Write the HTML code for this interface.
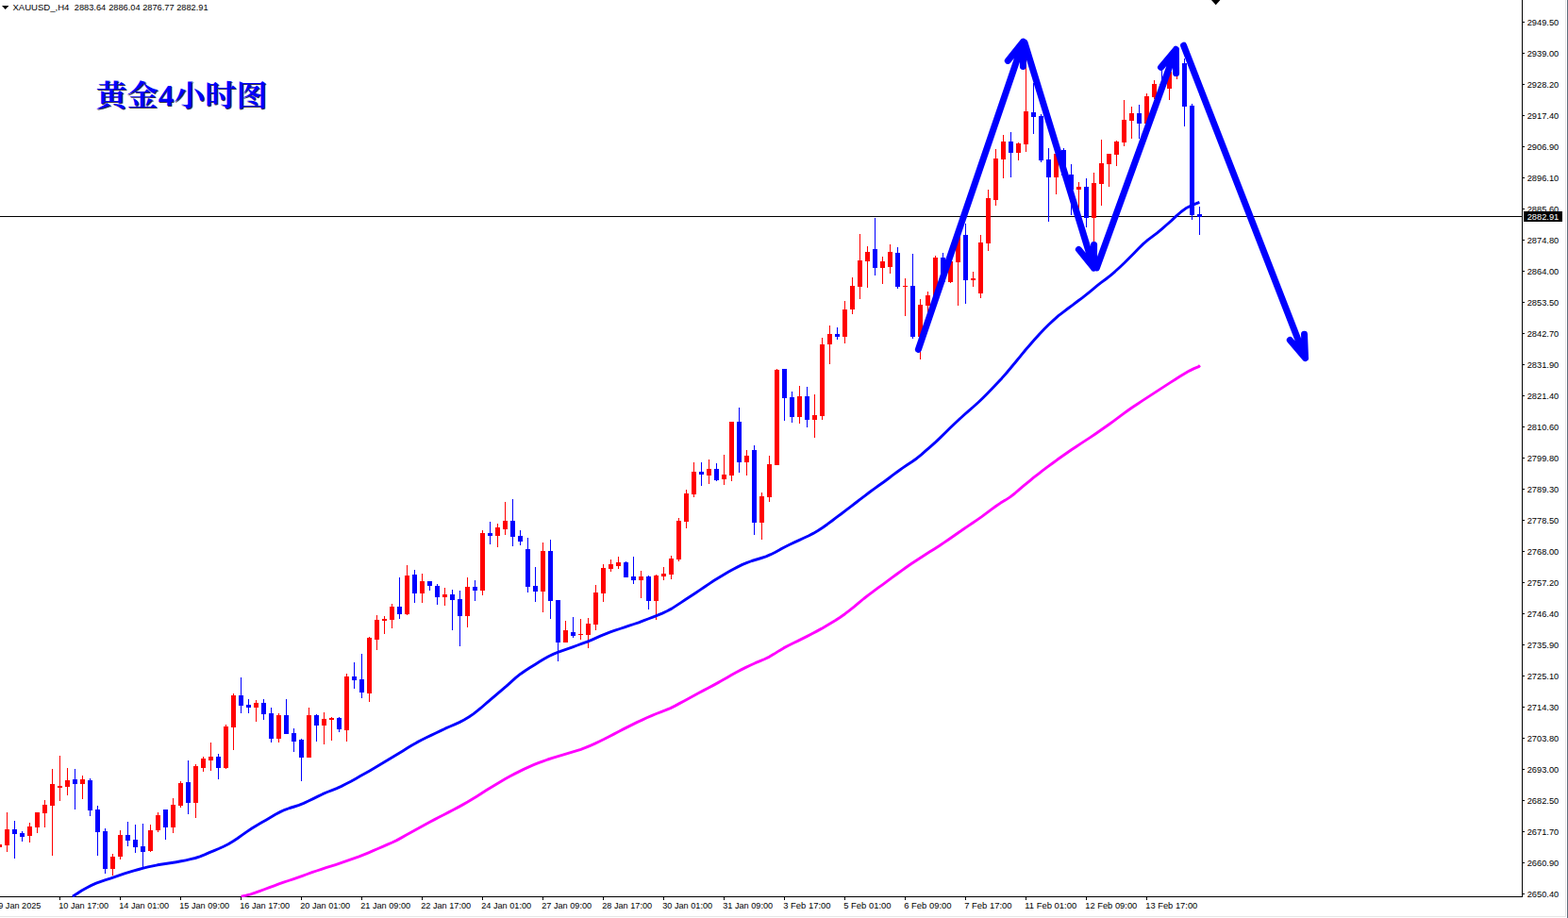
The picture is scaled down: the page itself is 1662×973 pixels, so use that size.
<!DOCTYPE html>
<html><head><meta charset="utf-8"><title>XAUUSD H4</title>
<style>
html,body{margin:0;padding:0;background:#fff;}
body{width:1662px;height:973px;overflow:hidden;position:relative;}
svg{position:absolute;left:0;top:0;display:block;}
text{font-family:"Liberation Sans",sans-serif;fill:#000;}
.ax{font-size:9.6px;}
</style></head><body>
<svg width="1662" height="973" viewBox="0 0 1662 973">
<rect width="1662" height="973" fill="#fff"/>
<g shape-rendering="crispEdges">
<rect x="1659" y="0" width="1" height="972" fill="#e6e6e6"/>
<rect x="0" y="971" width="1660" height="1" fill="#e6e6e6"/>
<rect x="1661" y="0" width="1" height="973" fill="#5c6b7a"/>
<rect x="0" y="229" width="1614" height="1" fill="#000"/>
<rect x="1613" y="0" width="1" height="951" fill="#000"/>
<rect x="0" y="950" width="1614" height="1" fill="#000"/>
<rect x="1614" y="23" width="2" height="1" fill="#000"/><rect x="1614" y="56" width="2" height="1" fill="#000"/><rect x="1614" y="89" width="2" height="1" fill="#000"/><rect x="1614" y="122" width="2" height="1" fill="#000"/><rect x="1614" y="155" width="2" height="1" fill="#000"/><rect x="1614" y="188" width="2" height="1" fill="#000"/><rect x="1614" y="221" width="2" height="1" fill="#000"/><rect x="1614" y="254" width="2" height="1" fill="#000"/><rect x="1614" y="287" width="2" height="1" fill="#000"/><rect x="1614" y="320" width="2" height="1" fill="#000"/><rect x="1614" y="353" width="2" height="1" fill="#000"/><rect x="1614" y="386" width="2" height="1" fill="#000"/><rect x="1614" y="419" width="2" height="1" fill="#000"/><rect x="1614" y="452" width="2" height="1" fill="#000"/><rect x="1614" y="485" width="2" height="1" fill="#000"/><rect x="1614" y="518" width="2" height="1" fill="#000"/><rect x="1614" y="551" width="2" height="1" fill="#000"/><rect x="1614" y="584" width="2" height="1" fill="#000"/><rect x="1614" y="617" width="2" height="1" fill="#000"/><rect x="1614" y="650" width="2" height="1" fill="#000"/><rect x="1614" y="683" width="2" height="1" fill="#000"/><rect x="1614" y="716" width="2" height="1" fill="#000"/><rect x="1614" y="749" width="2" height="1" fill="#000"/><rect x="1614" y="782" width="2" height="1" fill="#000"/><rect x="1614" y="815" width="2" height="1" fill="#000"/><rect x="1614" y="848" width="2" height="1" fill="#000"/><rect x="1614" y="881" width="2" height="1" fill="#000"/><rect x="1614" y="914" width="2" height="1" fill="#000"/><rect x="1614" y="947" width="2" height="1" fill="#000"/>
<rect x="-1" y="951" width="1" height="3" fill="#000"/><rect x="63" y="951" width="1" height="3" fill="#000"/><rect x="127" y="951" width="1" height="3" fill="#000"/><rect x="191" y="951" width="1" height="3" fill="#000"/><rect x="255" y="951" width="1" height="3" fill="#000"/><rect x="319" y="951" width="1" height="3" fill="#000"/><rect x="383" y="951" width="1" height="3" fill="#000"/><rect x="447" y="951" width="1" height="3" fill="#000"/><rect x="511" y="951" width="1" height="3" fill="#000"/><rect x="575" y="951" width="1" height="3" fill="#000"/><rect x="639" y="951" width="1" height="3" fill="#000"/><rect x="703" y="951" width="1" height="3" fill="#000"/><rect x="767" y="951" width="1" height="3" fill="#000"/><rect x="831" y="951" width="1" height="3" fill="#000"/><rect x="895" y="951" width="1" height="3" fill="#000"/><rect x="959" y="951" width="1" height="3" fill="#000"/><rect x="1023" y="951" width="1" height="3" fill="#000"/><rect x="1087" y="951" width="1" height="3" fill="#000"/><rect x="1151" y="951" width="1" height="3" fill="#000"/><rect x="1215" y="951" width="1" height="3" fill="#000"/>
<path fill="#ff0000" d="M-1 895h1v3h-1zM-3 895h5v3h-5zM7 861h1v42h-1zM5 879h5v17h-5zM31 872h1v21h-1zM29 876h5v10h-5zM39 861h1v22h-1zM37 861h5v16h-5zM47 848h1v29h-1zM45 853h5v9h-5zM55 815h1v92h-1zM53 831h5v23h-5zM63 801h1v48h-1zM61 833h5v2h-5zM71 814h1v29h-1zM69 827h5v7h-5zM87 822h1v25h-1zM85 826h5v5h-5zM119 905h1v23h-1zM117 908h5v13h-5zM127 880h1v31h-1zM125 885h5v23h-5zM159 874h1v29h-1zM157 880h5v22h-5zM167 861h1v21h-1zM165 864h5v16h-5zM183 846h1v37h-1zM181 853h5v24h-5zM191 828h1v28h-1zM189 830h5v24h-5zM207 810h1v57h-1zM205 812h5v39h-5zM215 802h1v16h-1zM213 804h5v10h-5zM223 787h1v30h-1zM221 802h5v4h-5zM239 768h1v47h-1zM237 770h5v44h-5zM247 735h1v60h-1zM245 737h5v34h-5zM271 742h1v23h-1zM269 745h5v5h-5zM295 756h1v31h-1zM293 758h5v25h-5zM327 750h1v53h-1zM325 758h5v45h-5zM343 755h1v34h-1zM341 762h5v7h-5zM351 760h1v25h-1zM349 761h5v2h-5zM367 714h1v72h-1zM365 717h5v57h-5zM391 675h1v69h-1zM389 676h5v59h-5zM399 652h1v37h-1zM397 657h5v21h-5zM407 653h1v19h-1zM405 656h5v2h-5zM415 640h1v26h-1zM413 643h5v14h-5zM431 599h1v53h-1zM429 610h5v41h-5zM447 608h1v31h-1zM445 616h5v13h-5zM471 623h1v19h-1zM469 630h5v3h-5zM495 612h1v53h-1zM493 622h5v31h-5zM511 562h1v69h-1zM509 565h5v61h-5zM527 555h1v25h-1zM525 559h5v9h-5zM535 532h1v35h-1zM533 552h5v9h-5zM575 575h1v74h-1zM573 584h5v43h-5zM599 658h1v23h-1zM597 668h5v13h-5zM615 656h1v22h-1zM613 672h5v1h-5zM623 655h1v32h-1zM621 661h5v12h-5zM631 620h1v48h-1zM629 628h5v34h-5zM639 598h1v40h-1zM637 602h5v27h-5zM647 593h1v13h-1zM645 598h5v5h-5zM655 590h1v13h-1zM653 596h5v4h-5zM679 605h1v29h-1zM677 611h5v4h-5zM695 609h1v48h-1zM693 610h5v27h-5zM703 601h1v14h-1zM701 608h5v3h-5zM711 589h1v25h-1zM709 592h5v17h-5zM719 549h1v46h-1zM717 552h5v41h-5zM727 519h1v41h-1zM725 523h5v30h-5zM735 490h1v37h-1zM733 500h5v24h-5zM751 487h1v26h-1zM749 497h5v7h-5zM767 482h1v32h-1zM765 503h5v5h-5zM775 447h1v63h-1zM773 447h5v57h-5zM791 477h1v27h-1zM789 483h5v7h-5zM807 522h1v50h-1zM805 526h5v28h-5zM815 483h1v49h-1zM813 492h5v35h-5zM823 391h1v102h-1zM821 392h5v101h-5zM847 409h1v40h-1zM845 420h5v22h-5zM863 418h1v46h-1zM861 440h5v5h-5zM871 358h1v87h-1zM869 365h5v76h-5zM879 345h1v41h-1zM877 354h5v11h-5zM895 319h1v45h-1zM893 328h5v29h-5zM903 294h1v39h-1zM901 303h5v25h-5zM911 248h1v69h-1zM909 276h5v28h-5zM919 261h1v44h-1zM917 267h5v10h-5zM935 272h1v29h-1zM933 277h5v7h-5zM943 259h1v31h-1zM941 267h5v16h-5zM959 295h1v40h-1zM957 303h5v1h-5zM975 317h1v64h-1zM973 323h5v34h-5zM983 309h1v22h-1zM981 313h5v11h-5zM991 271h1v43h-1zM989 273h5v41h-5zM1007 275h1v25h-1zM1005 277h5v22h-5zM1015 246h1v78h-1zM1013 249h5v29h-5zM1031 288h1v16h-1zM1029 295h5v2h-5zM1039 249h1v67h-1zM1037 257h5v54h-5zM1047 201h1v65h-1zM1045 210h5v48h-5zM1055 158h1v60h-1zM1053 168h5v44h-5zM1063 143h1v46h-1zM1061 150h5v19h-5zM1079 151h1v19h-1zM1077 152h5v10h-5zM1087 60h1v101h-1zM1085 118h5v35h-5zM1119 161h1v45h-1zM1117 163h5v25h-5zM1143 193h1v32h-1zM1141 198h5v3h-5zM1159 183h1v76h-1zM1157 194h5v37h-5zM1167 148h1v70h-1zM1165 173h5v22h-5zM1175 163h1v35h-1zM1173 163h5v11h-5zM1183 149h1v27h-1zM1181 150h5v14h-5zM1191 106h1v49h-1zM1189 127h5v24h-5zM1199 113h1v34h-1zM1197 120h5v8h-5zM1215 99h1v34h-1zM1213 102h5v29h-5zM1223 85h1v20h-1zM1221 89h5v14h-5zM1239 72h1v34h-1zM1237 76h5v18h-5zM1247 62h1v22h-1zM1245 67h5v10h-5z"/>
<path fill="#0000ff" d="M15 870h1v40h-1zM13 879h5v5h-5zM23 881h1v11h-1zM21 883h5v4h-5zM79 815h1v43h-1zM77 826h5v5h-5zM95 825h1v40h-1zM93 827h5v32h-5zM103 854h1v53h-1zM101 858h5v24h-5zM111 878h1v48h-1zM109 881h5v40h-5zM135 871h1v26h-1zM133 885h5v6h-5zM143 874h1v30h-1zM141 890h5v8h-5zM151 873h1v46h-1zM149 897h5v6h-5zM175 858h1v32h-1zM173 858h5v19h-5zM199 806h1v57h-1zM197 829h5v22h-5zM231 799h1v27h-1zM229 802h5v12h-5zM255 718h1v38h-1zM253 737h5v11h-5zM263 741h1v15h-1zM261 747h5v3h-5zM279 741h1v22h-1zM277 745h5v12h-5zM287 750h1v37h-1zM285 756h5v27h-5zM303 741h1v37h-1zM301 758h5v20h-5zM311 772h1v25h-1zM309 777h5v9h-5zM319 783h1v45h-1zM317 784h5v19h-5zM335 757h1v29h-1zM333 758h5v11h-5zM359 760h1v16h-1zM357 761h5v12h-5zM375 702h1v28h-1zM373 717h5v4h-5zM383 693h1v47h-1zM381 720h5v14h-5zM423 612h1v44h-1zM421 643h5v8h-5zM439 604h1v35h-1zM437 609h5v20h-5zM455 616h1v10h-1zM453 616h5v5h-5zM463 619h1v22h-1zM461 621h5v12h-5zM479 625h1v43h-1zM477 630h5v6h-5zM487 626h1v59h-1zM485 635h5v18h-5zM503 615h1v22h-1zM501 622h5v4h-5zM519 553h1v24h-1zM517 565h5v3h-5zM543 529h1v50h-1zM541 552h5v17h-5zM551 562h1v16h-1zM549 568h5v6h-5zM559 570h1v58h-1zM557 582h5v40h-5zM567 601h1v37h-1zM565 621h5v6h-5zM583 572h1v84h-1zM581 584h5v53h-5zM591 636h1v65h-1zM589 636h5v45h-5zM607 654h1v22h-1zM605 670h5v4h-5zM663 595h1v17h-1zM661 596h5v16h-5zM671 590h1v29h-1zM669 611h5v4h-5zM687 610h1v36h-1zM685 611h5v26h-5zM743 490h1v25h-1zM741 500h5v3h-5zM759 491h1v19h-1zM757 497h5v12h-5zM783 432h1v69h-1zM781 447h5v43h-5zM799 472h1v95h-1zM797 477h5v77h-5zM831 391h1v55h-1zM829 391h5v31h-5zM839 415h1v33h-1zM837 421h5v21h-5zM855 410h1v43h-1zM853 420h5v25h-5zM887 347h1v13h-1zM885 354h5v3h-5zM927 231h1v61h-1zM925 264h5v20h-5zM951 262h1v44h-1zM949 268h5v36h-5zM967 269h1v90h-1zM965 303h5v54h-5zM999 268h1v31h-1zM997 273h5v26h-5zM1023 237h1v85h-1zM1021 249h5v48h-5zM1071 140h1v48h-1zM1069 150h5v12h-5zM1095 88h1v54h-1zM1093 119h5v5h-5zM1103 121h1v51h-1zM1101 123h5v47h-5zM1111 157h1v78h-1zM1109 169h5v19h-5zM1127 157h1v29h-1zM1125 159h5v27h-5zM1135 174h1v54h-1zM1133 185h5v16h-5zM1151 189h1v52h-1zM1149 198h5v33h-5zM1207 111h1v36h-1zM1205 120h5v11h-5zM1231 70h1v25h-1zM1229 89h5v5h-5zM1255 62h1v72h-1zM1253 67h5v46h-5zM1263 110h1v123h-1zM1261 112h5v116h-5zM1271 219h1v30h-1zM1269 227h5v3h-5z"/>
</g>
<polyline fill="none" stroke="#ff00ff" stroke-width="2.9" stroke-linejoin="round" points="255.6,950.2 260.6,949.1 265.6,947.8 270.6,946.2 275.6,944.4 280.6,942.5 285.6,940.6 290.6,938.8 295.6,936.9 300.6,935.2 305.6,933.5 310.6,931.8 315.6,930.1 320.6,928.3 325.6,926.5 330.6,924.7 335.6,923.0 340.6,921.3 345.6,919.7 350.6,918.2 355.6,916.6 360.6,914.9 365.6,913.1 370.6,911.3 375.6,909.6 380.6,907.9 385.6,905.9 390.6,903.8 395.6,901.7 400.6,899.5 405.6,897.4 410.6,895.2 415.6,893.0 420.6,890.6 425.6,887.9 430.6,885.1 435.6,882.3 440.6,879.5 445.6,876.7 450.6,873.9 455.6,871.2 460.6,868.6 465.6,866.0 470.6,863.5 475.6,860.9 480.6,858.3 485.6,855.6 490.6,852.9 495.6,850.1 500.6,847.1 505.6,844.0 510.6,840.7 515.6,837.5 520.6,834.4 525.6,831.4 530.6,828.4 535.6,825.5 540.6,822.7 545.6,820.1 550.6,817.6 555.6,815.1 560.6,812.9 565.6,810.7 570.6,808.7 575.6,806.8 580.6,805.0 585.6,803.4 590.6,801.9 595.6,800.4 600.6,798.9 605.6,797.4 610.6,795.9 615.6,794.3 620.6,792.4 625.6,790.3 630.6,788.1 635.6,785.7 640.6,783.3 645.6,780.7 650.6,778.1 655.6,775.5 660.6,772.9 665.6,770.4 670.6,767.9 675.6,765.4 680.6,763.1 685.6,760.8 690.6,758.6 695.6,756.5 700.6,754.6 705.6,752.7 710.6,750.6 715.6,748.1 720.6,745.4 725.6,742.7 730.6,739.9 735.6,737.2 740.6,734.5 745.6,731.9 750.6,729.3 755.6,726.6 760.6,723.9 765.6,721.1 770.6,718.2 775.6,715.3 780.6,712.5 785.6,709.9 790.6,707.4 795.6,705.0 800.6,702.7 805.6,700.6 810.6,698.5 815.6,696.1 820.6,693.1 825.6,689.9 830.6,686.9 835.6,684.2 840.6,681.7 845.6,679.4 850.6,676.9 855.6,674.4 860.6,671.8 865.6,669.1 870.6,666.4 875.6,663.5 880.6,660.5 885.6,657.5 890.6,654.2 895.6,650.7 900.6,646.8 905.6,642.8 910.6,638.6 915.6,634.5 920.6,630.6 925.6,626.9 930.6,623.2 935.6,619.6 940.6,615.9 945.6,612.2 950.6,608.5 955.6,604.8 960.6,601.2 965.6,597.8 970.6,594.5 975.6,591.2 980.6,588.0 985.6,584.8 990.6,581.7 995.6,578.5 1000.6,575.1 1005.6,571.7 1010.6,568.2 1015.6,564.7 1020.6,561.3 1025.6,557.9 1030.6,554.5 1035.6,551.1 1040.6,547.6 1045.6,543.9 1050.6,540.1 1055.6,536.5 1060.6,533.1 1065.6,530.1 1070.6,526.9 1075.6,523.0 1080.6,518.7 1085.6,514.4 1090.6,510.3 1095.6,506.2 1100.6,502.3 1105.6,498.4 1110.6,494.7 1115.6,491.0 1120.6,487.3 1125.6,483.8 1130.6,480.3 1135.6,476.8 1140.6,473.5 1145.6,470.1 1150.6,466.9 1155.6,463.6 1160.6,460.2 1165.6,456.8 1170.6,453.3 1175.6,449.7 1180.6,446.1 1185.6,442.4 1190.6,438.7 1195.6,435.0 1200.6,431.5 1205.6,428.2 1210.6,424.9 1215.6,421.6 1220.6,418.4 1225.6,415.1 1230.6,411.9 1235.6,408.6 1240.6,405.4 1245.6,402.2 1250.6,399.0 1255.6,396.0 1260.6,393.1 1265.6,390.6 1270.6,388.6 1271.9,387.3"/>
<polyline fill="none" stroke="#0000ff" stroke-width="2.9" stroke-linejoin="round" points="76.9,950.2 81.9,947.0 86.9,943.8 91.9,941.0 96.9,938.4 101.9,936.2 106.9,934.3 111.9,932.6 116.9,931.1 121.9,929.4 126.9,927.7 131.9,925.9 136.9,924.3 141.9,922.8 146.9,921.5 151.9,920.1 156.9,918.9 161.9,917.8 166.9,916.8 171.9,916.0 176.9,915.3 181.9,914.5 186.9,913.7 191.9,912.8 196.9,911.8 201.9,910.7 206.9,909.5 211.9,907.9 216.9,905.9 221.9,903.7 226.9,901.6 231.9,899.5 236.9,897.2 241.9,894.7 246.9,891.7 251.9,888.5 256.9,884.9 261.9,881.4 266.9,878.0 271.9,874.9 276.9,872.1 281.9,869.2 286.9,866.3 291.9,863.3 296.9,860.6 301.9,858.3 306.9,856.5 311.9,855.0 316.9,853.4 321.9,851.4 326.9,849.0 331.9,846.6 336.9,844.1 341.9,841.7 346.9,839.5 351.9,837.6 356.9,835.6 361.9,833.4 366.9,830.8 371.9,828.2 376.9,825.4 381.9,822.6 386.9,819.8 391.9,816.9 396.9,814.1 401.9,811.1 406.9,808.1 411.9,805.1 416.9,802.1 421.9,799.0 426.9,795.9 431.9,792.8 436.9,789.7 441.9,786.9 446.9,784.3 451.9,781.8 456.9,779.4 461.9,777.0 466.9,774.6 471.9,772.2 476.9,770.0 481.9,767.8 486.9,765.6 491.9,763.0 496.9,760.0 501.9,756.6 506.9,752.7 511.9,748.5 516.9,744.2 521.9,739.9 526.9,735.7 531.9,731.4 536.9,727.1 541.9,722.6 546.9,718.2 551.9,714.2 556.9,710.7 561.9,707.5 566.9,704.4 571.9,701.3 576.9,698.3 581.9,695.5 586.9,693.1 591.9,691.1 596.9,689.3 601.9,687.6 606.9,685.8 611.9,684.0 616.9,682.2 621.9,680.4 626.9,678.4 631.9,676.2 636.9,673.9 641.9,671.8 646.9,669.9 651.9,668.2 656.9,666.5 661.9,664.9 666.9,663.2 671.9,661.5 676.9,659.8 681.9,657.9 686.9,656.0 691.9,654.1 696.9,652.2 701.9,650.1 706.9,647.8 711.9,645.1 716.9,641.9 721.9,638.6 726.9,635.2 731.9,632.0 736.9,628.7 741.9,625.4 746.9,622.0 751.9,618.6 756.9,615.3 761.9,612.2 766.9,609.2 771.9,606.3 776.9,603.5 781.9,600.9 786.9,598.4 791.9,596.3 796.9,594.5 801.9,593.0 806.9,591.5 811.9,589.9 816.9,587.7 821.9,585.2 826.9,582.4 831.9,579.8 836.9,577.3 841.9,574.9 846.9,572.6 851.9,570.3 856.9,568.0 861.9,565.4 866.9,562.5 871.9,559.2 876.9,555.7 881.9,552.0 886.9,548.2 891.9,544.5 896.9,540.7 901.9,536.9 906.9,533.0 911.9,529.1 916.9,525.3 921.9,521.5 926.9,517.9 931.9,514.3 936.9,510.7 941.9,507.0 946.9,503.2 951.9,499.5 956.9,495.9 961.9,492.5 966.9,489.3 971.9,485.7 976.9,481.6 981.9,477.2 986.9,472.8 991.9,468.4 996.9,463.6 1001.9,458.7 1006.9,453.8 1011.9,449.0 1016.9,444.3 1021.9,439.7 1026.9,435.3 1031.9,431.0 1036.9,426.5 1041.9,421.7 1046.9,416.7 1051.9,411.6 1056.9,406.3 1061.9,400.9 1066.9,395.2 1071.9,389.3 1076.9,383.3 1081.9,377.1 1086.9,371.0 1091.9,365.2 1096.9,359.5 1101.9,354.0 1106.9,348.8 1111.9,343.8 1116.9,339.1 1121.9,334.7 1126.9,330.8 1131.9,327.0 1136.9,323.3 1141.9,319.5 1146.9,315.8 1151.9,311.9 1156.9,307.8 1161.9,303.7 1166.9,299.7 1171.9,296.0 1176.9,292.1 1181.9,287.8 1186.9,283.2 1191.9,278.5 1196.9,273.5 1201.9,268.4 1206.9,263.3 1211.9,258.4 1216.9,254.2 1221.9,250.4 1226.9,246.6 1231.9,242.4 1236.9,238.0 1241.9,233.6 1246.9,228.9 1251.9,224.5 1256.9,220.8 1261.9,218.2 1266.9,216.1 1271.4,214.3"/>
<rect x="0" y="951" width="1613" height="20" fill="#fff"/>
<g shape-rendering="crispEdges"><rect x="-1" y="951" width="1" height="3" fill="#000"/><rect x="63" y="951" width="1" height="3" fill="#000"/><rect x="127" y="951" width="1" height="3" fill="#000"/><rect x="191" y="951" width="1" height="3" fill="#000"/><rect x="255" y="951" width="1" height="3" fill="#000"/><rect x="319" y="951" width="1" height="3" fill="#000"/><rect x="383" y="951" width="1" height="3" fill="#000"/><rect x="447" y="951" width="1" height="3" fill="#000"/><rect x="511" y="951" width="1" height="3" fill="#000"/><rect x="575" y="951" width="1" height="3" fill="#000"/><rect x="639" y="951" width="1" height="3" fill="#000"/><rect x="703" y="951" width="1" height="3" fill="#000"/><rect x="767" y="951" width="1" height="3" fill="#000"/><rect x="831" y="951" width="1" height="3" fill="#000"/><rect x="895" y="951" width="1" height="3" fill="#000"/><rect x="959" y="951" width="1" height="3" fill="#000"/><rect x="1023" y="951" width="1" height="3" fill="#000"/><rect x="1087" y="951" width="1" height="3" fill="#000"/><rect x="1151" y="951" width="1" height="3" fill="#000"/><rect x="1215" y="951" width="1" height="3" fill="#000"/></g>
<g fill="none" stroke="#0000ff" stroke-width="7" stroke-linecap="round" stroke-linejoin="round">
<path d="M973.4 370.4L1084.5 44.3M1068.3 64.4L1084.5 44.3L1084.4 70.4"/>
<path d="M1086 45L1159.4 284.1M1143.4 264.4L1159.4 284.1L1159.6 259.4"/>
<path d="M1162.4 284L1246.4 52.4M1230.5 71.4L1246.4 52.4L1246.6 77.6"/>
<path d="M1254.6 48.2L1383.5 379.5M1367.3 360.4L1383.5 379.5L1382.5 354.3"/>
</g>
<path d="M1284 0H1293.4L1288.7 5.2Z" fill="#000"/>
<path d="M2 6H9.4L5.7 10Z" fill="#000"/>
<g class="ax">
<text x="13.4" y="11.2" textLength="60" lengthAdjust="spacingAndGlyphs">XAUUSD_,H4</text><text x="78.8" y="11.2" textLength="33.4" lengthAdjust="spacingAndGlyphs">2883.64</text><text x="115.2" y="11.2" textLength="33.4" lengthAdjust="spacingAndGlyphs">2886.04</text><text x="151.2" y="11.2" textLength="33.4" lengthAdjust="spacingAndGlyphs">2876.77</text><text x="187.2" y="11.2" textLength="33.4" lengthAdjust="spacingAndGlyphs">2882.91</text>
<text x="1618.7" y="27.2" textLength="33.6" lengthAdjust="spacingAndGlyphs">2949.50</text><text x="1618.7" y="60.2" textLength="33.6" lengthAdjust="spacingAndGlyphs">2939.00</text><text x="1618.7" y="93.2" textLength="33.6" lengthAdjust="spacingAndGlyphs">2928.20</text><text x="1618.7" y="126.2" textLength="33.6" lengthAdjust="spacingAndGlyphs">2917.40</text><text x="1618.7" y="159.2" textLength="33.6" lengthAdjust="spacingAndGlyphs">2906.90</text><text x="1618.7" y="192.2" textLength="33.6" lengthAdjust="spacingAndGlyphs">2896.10</text><text x="1618.7" y="225.2" textLength="33.6" lengthAdjust="spacingAndGlyphs">2885.60</text><text x="1618.7" y="258.2" textLength="33.6" lengthAdjust="spacingAndGlyphs">2874.80</text><text x="1618.7" y="291.2" textLength="33.6" lengthAdjust="spacingAndGlyphs">2864.00</text><text x="1618.7" y="324.2" textLength="33.6" lengthAdjust="spacingAndGlyphs">2853.50</text><text x="1618.7" y="357.2" textLength="33.6" lengthAdjust="spacingAndGlyphs">2842.70</text><text x="1618.7" y="390.2" textLength="33.6" lengthAdjust="spacingAndGlyphs">2831.90</text><text x="1618.7" y="423.2" textLength="33.6" lengthAdjust="spacingAndGlyphs">2821.40</text><text x="1618.7" y="456.2" textLength="33.6" lengthAdjust="spacingAndGlyphs">2810.60</text><text x="1618.7" y="489.2" textLength="33.6" lengthAdjust="spacingAndGlyphs">2799.80</text><text x="1618.7" y="522.2" textLength="33.6" lengthAdjust="spacingAndGlyphs">2789.30</text><text x="1618.7" y="555.2" textLength="33.6" lengthAdjust="spacingAndGlyphs">2778.50</text><text x="1618.7" y="588.2" textLength="33.6" lengthAdjust="spacingAndGlyphs">2768.00</text><text x="1618.7" y="621.2" textLength="33.6" lengthAdjust="spacingAndGlyphs">2757.20</text><text x="1618.7" y="654.2" textLength="33.6" lengthAdjust="spacingAndGlyphs">2746.40</text><text x="1618.7" y="687.2" textLength="33.6" lengthAdjust="spacingAndGlyphs">2735.90</text><text x="1618.7" y="720.2" textLength="33.6" lengthAdjust="spacingAndGlyphs">2725.10</text><text x="1618.7" y="753.2" textLength="33.6" lengthAdjust="spacingAndGlyphs">2714.30</text><text x="1618.7" y="786.2" textLength="33.6" lengthAdjust="spacingAndGlyphs">2703.80</text><text x="1618.7" y="819.2" textLength="33.6" lengthAdjust="spacingAndGlyphs">2693.00</text><text x="1618.7" y="852.2" textLength="33.6" lengthAdjust="spacingAndGlyphs">2682.50</text><text x="1618.7" y="885.2" textLength="33.6" lengthAdjust="spacingAndGlyphs">2671.70</text><text x="1618.7" y="918.2" textLength="33.6" lengthAdjust="spacingAndGlyphs">2660.90</text><text x="1618.7" y="951.2" textLength="33.6" lengthAdjust="spacingAndGlyphs">2650.40</text>
<text x="-1.8" y="963.2" textLength="45.2" lengthAdjust="spacingAndGlyphs">9 Jan 2025</text><text x="62.2" y="963.2" textLength="53.0" lengthAdjust="spacingAndGlyphs">10 Jan 17:00</text><text x="126.2" y="963.2" textLength="53.0" lengthAdjust="spacingAndGlyphs">14 Jan 01:00</text><text x="190.2" y="963.2" textLength="53.0" lengthAdjust="spacingAndGlyphs">15 Jan 09:00</text><text x="254.2" y="963.2" textLength="53.0" lengthAdjust="spacingAndGlyphs">16 Jan 17:00</text><text x="318.2" y="963.2" textLength="53.0" lengthAdjust="spacingAndGlyphs">20 Jan 01:00</text><text x="382.2" y="963.2" textLength="53.0" lengthAdjust="spacingAndGlyphs">21 Jan 09:00</text><text x="446.2" y="963.2" textLength="53.0" lengthAdjust="spacingAndGlyphs">22 Jan 17:00</text><text x="510.2" y="963.2" textLength="53.0" lengthAdjust="spacingAndGlyphs">24 Jan 01:00</text><text x="574.2" y="963.2" textLength="53.0" lengthAdjust="spacingAndGlyphs">27 Jan 09:00</text><text x="638.2" y="963.2" textLength="53.0" lengthAdjust="spacingAndGlyphs">28 Jan 17:00</text><text x="702.2" y="963.2" textLength="53.0" lengthAdjust="spacingAndGlyphs">30 Jan 01:00</text><text x="766.2" y="963.2" textLength="53.0" lengthAdjust="spacingAndGlyphs">31 Jan 09:00</text><text x="830.2" y="963.2" textLength="50.4" lengthAdjust="spacingAndGlyphs">3 Feb 17:00</text><text x="894.2" y="963.2" textLength="50.4" lengthAdjust="spacingAndGlyphs">5 Feb 01:00</text><text x="958.2" y="963.2" textLength="50.4" lengthAdjust="spacingAndGlyphs">6 Feb 09:00</text><text x="1022.2" y="963.2" textLength="50.4" lengthAdjust="spacingAndGlyphs">7 Feb 17:00</text><text x="1086.2" y="963.2" textLength="55.1" lengthAdjust="spacingAndGlyphs">11 Feb 01:00</text><text x="1150.2" y="963.2" textLength="55.1" lengthAdjust="spacingAndGlyphs">12 Feb 09:00</text><text x="1214.2" y="963.2" textLength="55.1" lengthAdjust="spacingAndGlyphs">13 Feb 17:00</text>
</g>
<rect x="1615" y="224" width="41" height="11" fill="#000" shape-rendering="crispEdges"/>
<text class="ax" x="1618.7" y="233.2" textLength="33.6" lengthAdjust="spacingAndGlyphs" style="fill:#fff">2882.91</text>
<g opacity="0.8" transform="translate(0.90 0.90)">
<text x="101.5" y="112.4" textLength="182" lengthAdjust="spacingAndGlyphs" style="font-family:'Liberation Serif','Noto Serif CJK SC',serif;font-size:31px;font-weight:bold;fill:#000018">黄金4小时图</text>
</g>
<g opacity="1" transform="translate(0.00 0.00)">
<text x="101.5" y="112.4" textLength="182" lengthAdjust="spacingAndGlyphs" style="font-family:'Liberation Serif','Noto Serif CJK SC',serif;font-size:31px;font-weight:bold;fill:#0000ff">黄金4小时图</text>
</g>
</svg>
</body></html>
